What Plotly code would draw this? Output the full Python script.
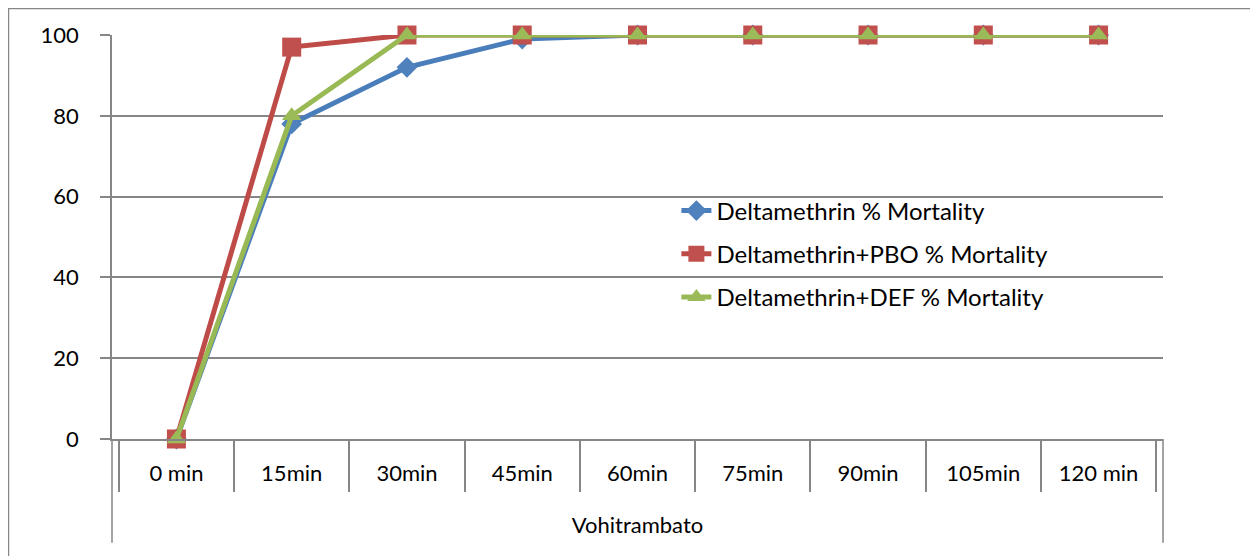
import plotly.graph_objects as go

# data
times = ["0 min", "15min", "30min", "45min", "60min", "75min", "90min", "105min", "120 min"]
site = "Vohitrambato"
delta = [0, 78, 92, 99, 100, 100, 100, 100, 100]
delta_pbo = [0, 97, 100, 100, 100, 100, 100, 100, 100]
delta_def = [0, 80, 100, 100, 100, 100, 100, 100, 100]

series = [
    ("Deltamethrin % Mortality", delta, "#4A7EBB", "#4F81BD", "diamond", 16),
    ("Deltamethrin+PBO % Mortality", delta_pbo, "#BE4B48", "#C0504D", "square", 19),
    ("Deltamethrin+DEF % Mortality", delta_def, "#98B954", "#9BBB59", "triangle-up", 17),
]

FONT = "Lato"
GREY = "#868686"

fig = go.Figure()
for i, (name, vals, lc, mc, sym, sz) in enumerate(series):
    fig.add_trace(go.Scatter(
        x=times, y=vals, name=name, mode="lines+markers",
        legendgroup=f"g{i}", cliponaxis=False,
        line=dict(color=lc, width=5),
        marker=dict(symbol=sym, size=sz, color=mc),
    ))

# page body adds 8px, so the figure is 8px smaller than the window
fig.update_layout(
    width=1250, height=548,
    margin=dict(l=104, r=95, t=27, b=117),
    paper_bgcolor="white", plot_bgcolor="white",
    font=dict(family=FONT, size=22, color="#000000"),
    showlegend=True,
    legend=dict(x=0.537, y=0.458, xanchor="left", yanchor="middle",
                bgcolor="rgba(0,0,0,0)", tracegroupgap=9,
                font=dict(size=24)),
)
fig.update_xaxes(
    type="category", showgrid=False,
    showline=True, linecolor=GREY, linewidth=1.5,
    ticks="outside", ticklen=51, tickcolor=GREY, tickwidth=1.5,
    tickson="boundaries", ticklabelstandoff=14,
    title=dict(text=site, standoff=32, font=dict(size=22)),
)
fig.update_yaxes(
    range=[0, 100], tickvals=[0, 20, 40, 60, 80, 100],
    showgrid=True, gridcolor=GREY, gridwidth=1.5,
    showline=True, linecolor=GREY, linewidth=1.5,
    ticks="outside", ticklen=10, tickcolor=GREY, tickwidth=1.5,
    zeroline=False, ticklabelstandoff=17,
)
# outer group dividers of the category axis
for xp in (0, 1):
    fig.add_shape(type="line", xref="paper", yref="paper",
                  x0=xp, x1=xp, y0=0, y1=-0.257,
                  line=dict(color=GREY, width=1.5))
fig.add_shape(type="rect", xref="paper", yref="paper",
              x0=-0.0985, x1=1.2, y0=-0.4, y1=1.0656,
              line=dict(color=GREY, width=1.5), layer="below")

fig.write_html("out.html")
